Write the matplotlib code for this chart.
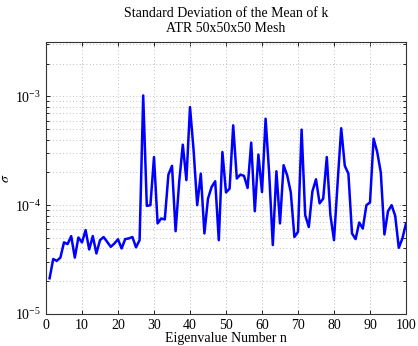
import numpy as np
import matplotlib
matplotlib.use('Agg')
from matplotlib import pyplot as plt
from matplotlib import ticker

####
# Data
####
n = np.arange(1, 101)
sigma = [
    2.13e-5, 3.2e-5, 3.08e-5, 3.3e-5, 4.55e-5, 4.39e-5, 5.2e-5, 3.3e-5, 5.05e-5, 4.55e-5,
    5.9e-5, 3.92e-5, 5.2e-5, 3.6e-5, 4.77e-5, 5.1e-5, 4.6e-5, 4.14e-5, 4.45e-5, 4.86e-5,
    4.0e-5, 4.88e-5, 4.95e-5, 5.1e-5, 4.1e-5, 4.77e-5, 1.02e-3, 9.86e-5, 1.0e-4, 2.77e-4,
    6.8e-5, 7.55e-5, 7.4e-5, 1.91e-4, 2.3e-4, 5.77e-5, 1.64e-4, 3.6e-4, 1.7e-4, 7.98e-4,
    3.2e-4, 1.0e-4, 1.95e-4, 5.5e-5, 1.15e-4, 1.47e-4, 1.66e-4, 4.77e-5, 3.08e-4, 1.31e-4,
    1.42e-4, 5.42e-4, 1.76e-4, 1.91e-4, 1.86e-4, 1.44e-4, 3.76e-4, 8.8e-5, 2.92e-4, 1.32e-4,
    6.24e-4, 1.95e-4, 4.3e-5, 2.05e-4, 6.8e-5, 2.33e-4, 1.88e-4, 1.31e-4, 5.1e-5, 5.7e-5,
    4.95e-4, 8.1e-5, 6.3e-5, 1.34e-4, 1.73e-4, 1.04e-4, 1.15e-4, 2.77e-4, 8.1e-5, 4.77e-5,
    1.6e-4, 5.1e-4, 2.3e-4, 1.95e-4, 5.5e-5, 4.88e-5, 6.93e-5, 6.1e-5, 1.0e-4, 1.06e-4,
    4.09e-4, 3.08e-4, 2.0e-4, 5.38e-5, 8.8e-5, 1.0e-4, 7.98e-5, 4.06e-5, 4.95e-5, 6.8e-5,
]
x_ticks = np.arange(0, 101, 10)

####
# Style
####
plt.rcParams['font.family'] = ['Liberation Serif', 'DejaVu Serif']
plt.rcParams['mathtext.fontset'] = 'stix'
plt.rcParams['xtick.direction'] = 'in'
plt.rcParams['ytick.direction'] = 'in'
plt.rcParams['xtick.top'] = True
plt.rcParams['ytick.right'] = True

fig = plt.figure(figsize=(4.18, 3.46), dpi=100)
ax = fig.add_axes([46/418, 1 - 314/346, 360/418, 272/346])

ax.plot(n, sigma, color=(0, 0, 1), linewidth=1.8)
ax.set_yscale('log')
ax.set_xlim(0, 100)
ax.set_ylim(1e-5, 10**-2.5)
ax.set_xticks(x_ticks)
ax.yaxis.set_major_locator(ticker.LogLocator(base=10, numticks=10))
ax.yaxis.set_minor_locator(ticker.LogLocator(base=10, subs=np.arange(2, 10), numticks=10))
ax.yaxis.set_minor_formatter(ticker.NullFormatter())

ax.grid(True, which='major', axis='both', linestyle=(0, (1, 3)), color='#aaaaaa', linewidth=0.6)
ax.grid(True, which='minor', axis='y', linestyle=(0, (1, 3)), color='#aaaaaa', linewidth=0.6)
ax.tick_params(which='both', labelsize=10, length=3, width=0.6, colors='black')
ax.tick_params(which='minor', length=2)
for s in ax.spines.values():
    s.set_linewidth(0.8)
    s.set_color('#333333')

ax.set_title('Standard Deviation of the Mean of k\nATR 50x50x50 Mesh', fontsize=10, pad=7, linespacing=1.2)
ax.set_xlabel('Eigenvalue Number n', fontsize=10, labelpad=0)
ax.set_ylabel(r'$\sigma$', fontsize=10, labelpad=2)

fig.savefig('out.png', dpi=100)
